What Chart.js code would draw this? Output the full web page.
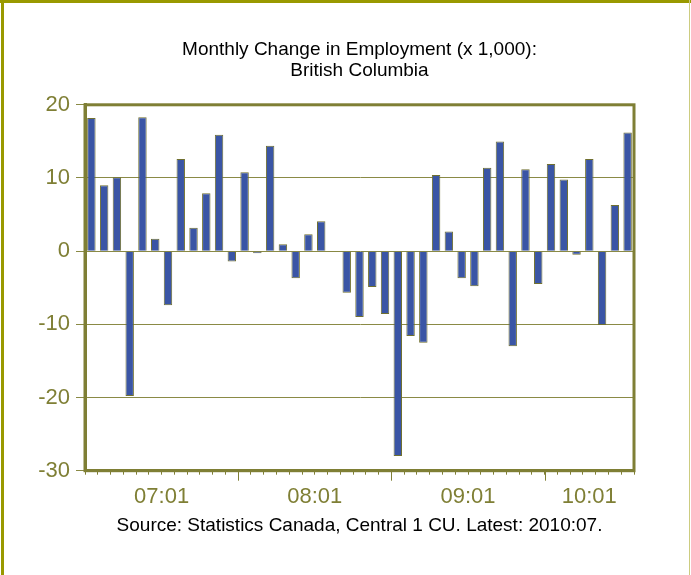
<!DOCTYPE html>
<html>
<head>
<meta charset="utf-8">
<script src="https://cdn.jsdelivr.net/npm/chart.js@4"></script>
<style>
  html, body { margin: 0; padding: 0; background: #fff; }
  canvas { display: block; }
</style>
</head>
<body>
<canvas id="empleo" width="691" height="575"></canvas>
<script>
// monthly change in employment, BC, 2007:01 .. 2010:07 (thousands)
const years = ["07", "08", "09", "10"];
const months = [];
years.forEach((yy) => {
  const last = yy == "10" ? 7 : 12;
  for (let m = 1; m <= last; m++) months.push(yy + ":" + String(m).padStart(2, "0"));
});
const cambio = [
  18.2, 9.0, 10.1, -19.8, 18.3, 1.7, -7.4, 12.6, 3.2, 7.9, 15.9, -1.4,
  10.8, -0.3, 14.4, 0.95, -3.7, 2.3, 4.1, -0.1, -5.7, -9.0, -4.9, -8.6,
  -28.0, -11.6, -12.5, 10.4, 2.7, -3.7, -4.8, 11.4, 15.0, -13.0, 11.2, -4.5,
  11.9, 9.8, -0.5, 12.6, -10.1, 6.3, 16.2,
];
const yTicks = [20, 10, 0, -10, -20, -30];
const xTickLabels = ["07:01", "08:01", "09:01", "10:01"];

const oliva = "#7f7f35";
const fuente = "'Liberation Sans', Arial, sans-serif";

// outer frame of the picture + box around the plot
const plugin_marco = {
  id: "marco",
  beforeDraw: (chart) => {
    const ctx = chart.ctx;
    ctx.save();
    ctx.fillStyle = "#fff";
    ctx.fillRect(0, 0, chart.width, chart.height);
    ctx.fillStyle = "#999900";
    ctx.fillRect(1, 0, 3, chart.height);
    ctx.fillRect(0, 0, chart.width, 3);
    ctx.fillStyle = "#cccc80";
    ctx.fillRect(chart.width - 2, 0, 1, chart.height);
    ctx.restore();
  },
  afterDraw: (chart) => {
    const ctx = chart.ctx;
    const a = chart.chartArea;
    const x = chart.scales.x;
    ctx.save();
    ctx.strokeStyle = oliva;
    ctx.lineWidth = 3;
    ctx.strokeRect(a.left, a.top, a.right - a.left, a.bottom - a.top);
    // long ticks at january
    ctx.lineWidth = 1;
    ctx.beginPath();
    months.forEach((m, i) => {
      if (m.endsWith(":01") && i > 0) {
        const px = Math.round(x.getPixelForValue(i - 0.5)) + 0.5;
        ctx.moveTo(px, a.bottom);
        ctx.lineTo(px, a.bottom + 10);
      }
    });
    ctx.stroke();
    // year labels, centred in each year's span
    ctx.fillStyle = oliva;
    ctx.font = "22px " + fuente;
    ctx.textAlign = "center";
    ctx.textBaseline = "middle";
    xTickLabels.forEach((lab) => {
      const i0 = months.indexOf(lab);
      let i1 = months.findIndex((m, j) => j > i0 && m.endsWith(":01"));
      if (i1 < 0) i1 = months.length;
      const p0 = x.getPixelForValue(i0 - 0.5);
      const p1 = x.getPixelForValue(i1 - 0.5);
      const w = ctx.measureText(lab).width;
      const cx = Math.min((p0 + p1) / 2, a.right - w / 2);
      ctx.fillText(lab, cx, a.bottom + 26);
    });
    ctx.restore();
  },
};

const ctx = document.getElementById("empleo").getContext("2d");
const chart_empleo = new Chart(ctx, {
  type: "bar",
  data: {
    labels: months,
    datasets: [
      {
        label: "Cambio mensual",
        data: cambio,
        backgroundColor: "#3a55a5",
        borderColor: "#707030",
        borderWidth: 1,
        barPercentage: 0.66,
        categoryPercentage: 1,
      },
    ],
  },
  options: {
    responsive: false,
    animation: false,
    layout: { padding: { left: 0, right: 57, top: 0, bottom: 0 } },
    scales: {
      x: {
        offset: true,
        grid: {
          offset: true,
          drawOnChartArea: false,
          drawTicks: true,
          tickLength: 4,
          color: oliva,
        },
        border: { display: true, color: oliva, width: 3 },
        ticks: { display: false },
        afterFit: (s) => {
          s.height = 30;
        },
      },
      y: {
        min: -30,
        max: 20,
        afterBuildTicks: (s) => {
          s.ticks = yTicks.map((v) => ({ value: v }));
        },
        grid: {
          color: "#8a8a45",
          lineWidth: 1,
          drawTicks: true,
          tickLength: 9,
        },
        border: { display: true, color: oliva, width: 3 },
        ticks: {
          color: oliva,
          padding: 6,
          font: { family: fuente, size: 22 },
        },
        afterFit: (s) => {
          s.width = 85;
        },
      },
    },
    plugins: {
      legend: { display: false },
      tooltip: { enabled: false },
      title: {
        display: true,
        fullSize: false,
        text: ["Monthly Change in Employment (x 1,000):", "British Columbia"],
        color: "#000",
        font: { family: fuente, size: 19, weight: "normal", lineHeight: 1.1 },
        padding: { top: 39, bottom: 24 },
      },
      subtitle: {
        display: true,
        fullSize: false,
        position: "bottom",
        text: "Source: Statistics Canada, Central 1 CU. Latest: 2010:07.",
        color: "#000",
        font: { family: fuente, size: 19, weight: "normal", lineHeight: 1.2 },
        padding: { top: 14, bottom: 37.5 },
      },
    },
  },
  plugins: [plugin_marco],
});
</script>
</body>
</html>
